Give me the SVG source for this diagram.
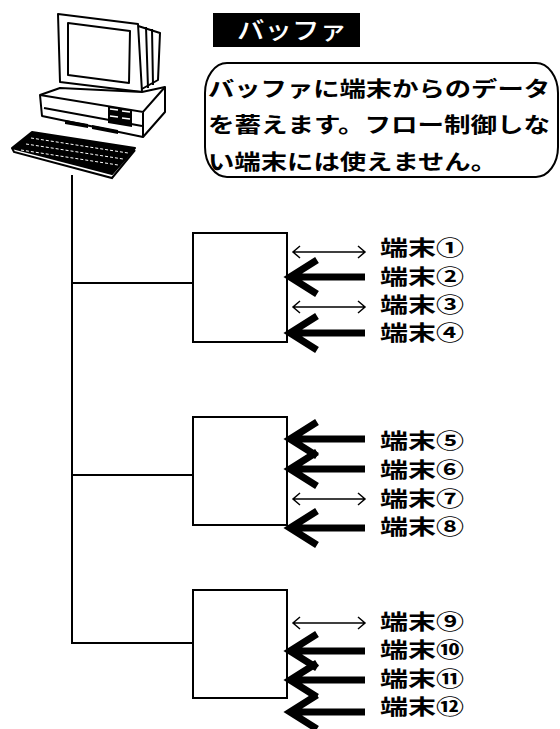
<svg xmlns="http://www.w3.org/2000/svg" width="560" height="729" viewBox="0 0 560 729">
<style>
  .ln{fill:none;stroke:#000;stroke-width:2}
  .thin{fill:none;stroke:#000;stroke-width:1.5}
  .thick{fill:none;stroke:#000;stroke-width:7;stroke-linejoin:miter}
  .lbl{font-family:"Noto Sans CJK JP","Noto Sans CJK SC",sans-serif;font-weight:700;font-size:21px;fill:#000}
  .pc{fill:#fff;stroke:#000;stroke-width:2;stroke-linejoin:round}
</style>
<defs>
  <g id="biArrow">
    <path class="thin" d="M293 0 H365 M300 -6 L293 0 L300 6 M358 -6 L365 0 L358 6"/>
  </g>
  <g id="inArrow">
    <path class="thick" d="M365 0 H292 M317 -17 L290 0 L317 17"/>
  </g>
</defs>
<rect width="560" height="729" fill="#fff"/>

<!-- host computer -->
<g id="computer">
  <!-- monitor -->
  <path class="pc" d="M135 25 L160 33 L158 80 L140 90 Z"/>
  <path class="pc" d="M58 14 L138 24 L142 92 L60 82 Z"/>
  <path class="pc" d="M68 23 L130 31 L129 83 L68 75 Z"/>
  <path class="ln" d="M146 27 L148 88 M152 29 L153 85"/>
  <!-- system unit -->
  <path class="pc" d="M40 95 L60 88 L142 92 L165 87 L165 112 L143 137 L42 116 Z"/>
  <path class="ln" d="M40 95 L143 112 L165 87 M143 112 L143 137"/>
  <path class="ln" d="M44 108 L142 126"/>
  <path d="M108 106 L132 110 L132 127 L108 123 Z" fill="#000"/>
  <path d="M110 109 L118 110 M122 111 L130 112 M110 116 L118 117 M122 118 L130 119" stroke="#fff" stroke-width="1.5"/>
  <path d="M65 120 L88 124 L88 128 L65 124 Z M92 125 L118 130 L118 134 L92 129 Z" fill="#000"/>
  <!-- keyboard -->
  <path d="M32 132 L135 148 L112 174 L12 148 Z" fill="#000" stroke="#000" stroke-width="2" stroke-linejoin="round"/>
  <path d="M31 138 L128 153 M26 144 L123 159 M21 150 L118 165" stroke="#fff" stroke-width="1" stroke-dasharray="3 2"/>
  <path class="ln" d="M12 148 L14 152 L112 178 L135 150"/>
</g>

<!-- connectors -->
<g id="connectors">
  <path class="ln" d="M72 175 V643 H193 M72 283 H193 M72 475 H193"/>
  <use href="#biArrow" y="252"/>
  <use href="#inArrow" y="277"/>
  <use href="#biArrow" y="307"/>
  <use href="#inArrow" y="333"/>
  <use href="#inArrow" y="439"/>
  <use href="#inArrow" y="469"/>
  <use href="#biArrow" y="499"/>
  <use href="#inArrow" y="528"/>
  <use href="#biArrow" y="623"/>
  <use href="#inArrow" y="651"/>
  <use href="#inArrow" y="680"/>
  <use href="#inArrow" y="712"/>
</g>

<!-- buffers -->
<g id="buffer1"><rect class="ln" x="193" y="233" width="94" height="109"/></g>
<g id="buffer2"><rect class="ln" x="193" y="417" width="94" height="108"/></g>
<g id="buffer3"><rect class="ln" x="193" y="590" width="94" height="108"/></g>

<!-- terminal labels -->
<g id="terminals" class="lbl">
  <text x="380" y="255" textLength="84" lengthAdjust="spacingAndGlyphs">端末①</text>
  <text x="380" y="284" textLength="84" lengthAdjust="spacingAndGlyphs">端末②</text>
  <text x="380" y="312" textLength="84" lengthAdjust="spacingAndGlyphs">端末③</text>
  <text x="380" y="340" textLength="84" lengthAdjust="spacingAndGlyphs">端末④</text>
  <text x="380" y="448" textLength="84" lengthAdjust="spacingAndGlyphs">端末⑤</text>
  <text x="380" y="477" textLength="84" lengthAdjust="spacingAndGlyphs">端末⑥</text>
  <text x="380" y="506" textLength="84" lengthAdjust="spacingAndGlyphs">端末⑦</text>
  <text x="380" y="534" textLength="84" lengthAdjust="spacingAndGlyphs">端末⑧</text>
  <text x="380" y="629" textLength="84" lengthAdjust="spacingAndGlyphs">端末⑨</text>
  <text x="380" y="657" textLength="84" lengthAdjust="spacingAndGlyphs">端末⑩</text>
  <text x="380" y="686" textLength="84" lengthAdjust="spacingAndGlyphs">端末⑪</text>
  <text x="380" y="714" textLength="84" lengthAdjust="spacingAndGlyphs">端末⑫</text>
</g>

<!-- title -->
<g id="title">
  <rect x="213" y="13" width="147" height="34" fill="#000"/>
  <text x="237" y="39" class="lbl" style="fill:#fff;font-size:24px;font-weight:500" textLength="110" lengthAdjust="spacingAndGlyphs">バッファ</text>
</g>

<!-- note -->
<g id="note">
  <rect class="ln" x="205" y="63" width="353" height="114" rx="22" ry="30"/>
  <g class="lbl">
    <text x="208" y="96" textLength="342" lengthAdjust="spacingAndGlyphs">バッファに端末からのデータ</text>
    <text x="208" y="132" textLength="342" lengthAdjust="spacingAndGlyphs">を蓄えます。フロー制御しな</text>
    <text x="208" y="169" textLength="289" lengthAdjust="spacingAndGlyphs">い端末には使えません。</text>
  </g>
</g>
</svg>
